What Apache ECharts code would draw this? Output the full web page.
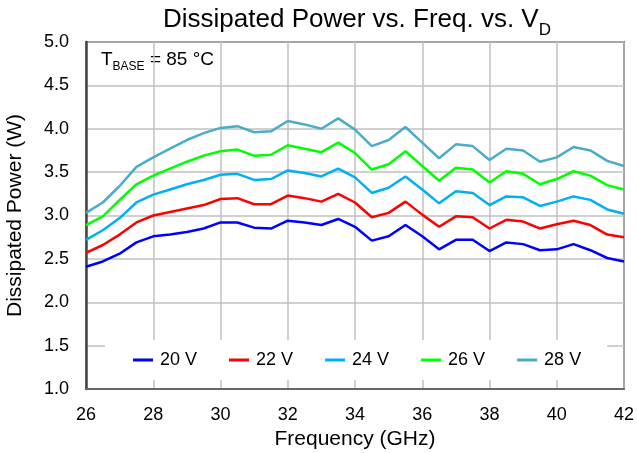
<!DOCTYPE html>
<html>
<head>
<meta charset="utf-8">
<script src="https://cdn.jsdelivr.net/npm/echarts@6/dist/echarts.min.js"></script>
<style>
  html, body { margin: 0; padding: 0; background: #fff; }
  #chart { width: 637px; height: 453px; }
</style>
</head>
<body>
<div id="chart"></div>
<script>
// frequency points, 0.5 GHz steps
const freqs = [26, 26.5, 27, 27.5, 28, 28.5, 29, 29.5, 30, 30.5, 31, 31.5, 32, 32.5, 33, 33.5,
  34, 34.5, 35, 35.5, 36, 36.5, 37, 37.5, 38, 38.5, 39, 39.5, 40, 40.5, 41, 41.5, 42]

const v20 = [2.41, 2.47, 2.56, 2.69, 2.76, 2.78, 2.81, 2.85, 2.92, 2.92, 2.86, 2.85, 2.94, 2.92, 2.89, 2.96,
  2.87, 2.71, 2.76, 2.89, 2.76, 2.61, 2.72, 2.72, 2.59, 2.69, 2.67, 2.60, 2.61, 2.67, 2.60, 2.51, 2.47]
const v22 = [2.57, 2.66, 2.78, 2.92, 3.00, 3.04, 3.08, 3.12, 3.19, 3.20, 3.13, 3.13, 3.23, 3.20, 3.16, 3.25,
  3.15, 2.98, 3.03, 3.16, 3.01, 2.87, 2.99, 2.98, 2.85, 2.95, 2.93, 2.85, 2.90, 2.94, 2.89, 2.78, 2.75]
const v24 = [2.72, 2.83, 2.97, 3.15, 3.24, 3.30, 3.36, 3.41, 3.47, 3.48, 3.41, 3.42, 3.52, 3.49, 3.45, 3.54,
  3.44, 3.26, 3.32, 3.45, 3.30, 3.14, 3.28, 3.26, 3.12, 3.22, 3.21, 3.11, 3.16, 3.22, 3.18, 3.07, 3.02]
const v26 = [2.89, 2.99, 3.18, 3.36, 3.46, 3.54, 3.62, 3.69, 3.74, 3.76, 3.69, 3.70, 3.81, 3.77, 3.73, 3.84,
  3.72, 3.53, 3.59, 3.74, 3.57, 3.40, 3.55, 3.53, 3.38, 3.51, 3.48, 3.36, 3.42, 3.51, 3.46, 3.35, 3.30]
const v28 = [3.03, 3.15, 3.34, 3.56, 3.67, 3.77, 3.87, 3.95, 4.01, 4.03, 3.96, 3.97, 4.09, 4.05, 4.00, 4.12,
  3.99, 3.80, 3.87, 4.02, 3.84, 3.66, 3.82, 3.80, 3.64, 3.77, 3.75, 3.62, 3.67, 3.79, 3.75, 3.63, 3.57]

const seriesNames = ['20 V', '22 V', '24 V', '26 V', '28 V']
const seriesValues = [v20, v22, v24, v26, v28]
const colors = ['#0000ff', '#ff0000', '#00b0f0', '#00ff00', '#4bacc6']

const font = '"Liberation Sans", Arial, sans-serif'
const chart = echarts.init(document.getElementById('chart'))

const option = {
  animation: false,
  color: colors,
  textStyle: { fontFamily: font, color: '#000' },
  title: {
    text: '{m|Dissipated Power vs. Freq. vs. V}{s|D}',
    left: 352,
    textAlign: 'center',
    top: 2,
    textStyle: {
      rich: {
        m: { fontFamily: font, fontSize: 26, fontWeight: 'normal', color: '#000', verticalAlign: 'bottom' },
        s: { fontFamily: font, fontSize: 17, fontWeight: 'normal', color: '#000', verticalAlign: 'bottom', padding: [0, 0, -6, 0] },
      },
    },
  },
  graphic: [
    {
      type: 'text',
      left: 101,
      top: 50,
      style: {
        text: '{m|T}{s|BASE}{m| = 85 °C}',
        rich: {
          m: { fontFamily: font, fontSize: 19, fill: '#000', verticalAlign: 'bottom' },
          s: { fontFamily: font, fontSize: 12, fill: '#000', verticalAlign: 'bottom', padding: [0, 0, -4, 0] },
        },
      },
    },
  ],
  legend: {
    data: seriesNames.map((name) => ({ name, icon: 'rect' })),
    left: 105,
    top: 340,
    itemWidth: 20,
    itemHeight: 3,
    itemGap: 32,
    padding: [11, 26, 11, 28],
    backgroundColor: '#fff',
    textStyle: { fontFamily: font, fontSize: 18, color: '#000', padding: [0, 0, 0, 2] },
  },
  grid: {
    left: 86,
    right: 13,
    top: 42,
    bottom: 64,
    outerBoundsMode: 'none',
    containLabel: false,
    show: true,
    borderColor: '#222',
    borderWidth: 1.5,
    backgroundColor: 'transparent',
  },
  xAxis: {
    type: 'value',
    min: 26,
    max: 42,
    interval: 2,
    name: 'Frequency (GHz)',
    nameLocation: 'middle',
    nameGap: 36,
    nameTextStyle: { fontFamily: font, fontSize: 21, color: '#000' },
    axisLine: { show: true, lineStyle: { color: '#666', width: 2 } },
    axisTick: { show: false },
    axisLabel: { fontFamily: font, fontSize: 18, color: '#000', margin: 17 },
    splitLine: { show: true, lineStyle: { color: '#c0c0c0', width: 1.5 } },
  },
  yAxis: {
    type: 'value',
    min: 1,
    max: 5,
    interval: 0.5,
    name: 'Dissipated Power (W)',
    nameLocation: 'middle',
    nameGap: 60,
    nameTextStyle: { fontFamily: font, fontSize: 21, color: '#000' },
    axisLine: { show: true, lineStyle: { color: '#444', width: 2.5 } },
    axisTick: { show: false },
    axisLabel: {
      fontFamily: font,
      fontSize: 18,
      color: '#000',
      margin: 17,
      formatter: (v) => v.toFixed(1),
    },
    splitLine: { show: true, lineStyle: { color: '#c0c0c0', width: 1.5 } },
  },
  series: seriesNames.map((name, i) => ({
    name,
    type: 'line',
    data: freqs.map((f, j) => [f, seriesValues[i][j]]),
    showSymbol: false,
    symbol: 'none',
    lineStyle: { width: 2.5, color: colors[i] },
    z: 3,
  })),
}

chart.setOption(option)
</script>
</body>
</html>
